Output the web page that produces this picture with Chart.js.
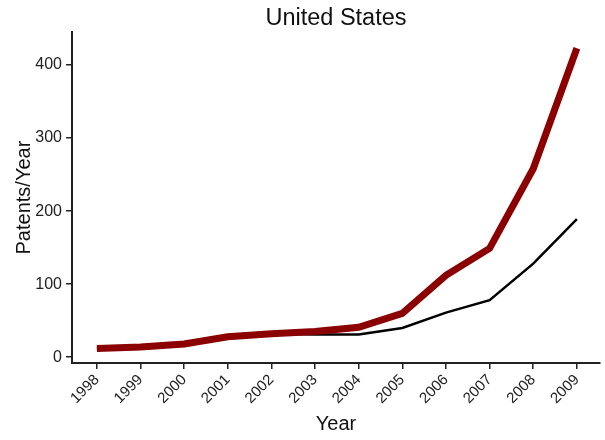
<!DOCTYPE html>
<html lang="en">
    <head>
        <meta charset="UTF-8" />
        <title>United States Patents/Year</title>
        <script src="https://cdn.jsdelivr.net/npm/chart.js"></script>
        <style>
            html, body { margin: 0; padding: 0; background: #fff; }
            #box { width: 605px; height: 440px; }
        </style>
    </head>
    <body>
        <div id="box"><canvas id="myChart"></canvas></div>

        <script>
            const years = [1998, 1999, 2000, 2001, 2002, 2003, 2004, 2005, 2006, 2007, 2008, 2009];
            const redValues = [12, 14, 18, 28, 32, 35, 41, 60, 112, 149, 258, 423];
            const blackValues = [12, 14, 18, 28, 32, 31, 31, 40, 61, 78, 128, 189];
            const yTicks = [0, 100, 200, 300, 400];

            const toPoints = (vals) => vals.map((v, i) => ({ x: years[i], y: v }));
            const titleFont = { family: "Liberation Sans", size: 20 };

            const ctx = document.getElementById("myChart").getContext("2d");
            const myChart = new Chart(ctx, {
                type: "line",
                data: {
                    datasets: [
                        {
                            label: "Red",
                            data: toPoints(redValues),
                            borderColor: "#8b0000",
                            borderWidth: 7,
                            borderCapStyle: "butt",
                            pointRadius: 0,
                            tension: 0,
                            order: 0,
                        },
                        {
                            label: "Black",
                            data: toPoints(blackValues),
                            borderColor: "#000000",
                            borderWidth: 2.5,
                            pointRadius: 0,
                            tension: 0,
                            order: 1,
                        },
                    ],
                },
                options: {
                    responsive: true,
                    maintainAspectRatio: false,
                    animation: false,
                    layout: { padding: { top: 0, right: 5, bottom: 0, left: 0 } },
                    plugins: {
                        legend: { display: false },
                        tooltip: { enabled: false },
                        title: {
                            display: true,
                            fullSize: false,
                            text: "United States",
                            color: "#111",
                            font: { family: "Liberation Sans", size: 23.5, weight: "normal" },
                            padding: { top: 4, bottom: 0 },
                        },
                    },
                    scales: {
                        x: {
                            type: "linear",
                            min: 1997.43,
                            max: 2009.53,
                            afterBuildTicks: (scale) => {
                                scale.ticks = years.map((y) => ({ value: y }));
                            },
                            afterFit: (scale) => { scale.height = 77; },
                            grid: { drawOnChartArea: false, drawTicks: true, tickLength: 6, color: "#222", lineWidth: 1.5 },
                            border: { display: true, color: "#222", width: 2 },
                            ticks: {
                                color: "#222",
                                font: { family: "Liberation Sans", size: 15 },
                                minRotation: 45,
                                maxRotation: 45,
                                padding: 2,
                                callback: (v) => String(v),
                            },
                            title: {
                                display: true,
                                text: "Year",
                                color: "#111",
                                font: titleFont,
                                padding: { top: 0, bottom: 4 },
                            },
                        },
                        y: {
                            min: -8,
                            max: 445,
                            afterBuildTicks: (scale) => {
                                scale.ticks = yTicks.map((v) => ({ value: v }));
                            },
                            afterFit: (scale) => { scale.width = 72; },
                            grid: { drawOnChartArea: false, drawTicks: true, tickLength: 6, color: "#222", lineWidth: 1.5 },
                            border: { display: true, color: "#222", width: 2 },
                            ticks: { color: "#222", font: { family: "Liberation Sans", size: 16 }, padding: 4 },
                            title: {
                                display: true,
                                text: "Patents/Year",
                                color: "#111",
                                font: titleFont,
                                padding: { top: 12, bottom: 0 },
                            },
                        },
                    },
                },
            });
        </script>
    </body>
</html>
